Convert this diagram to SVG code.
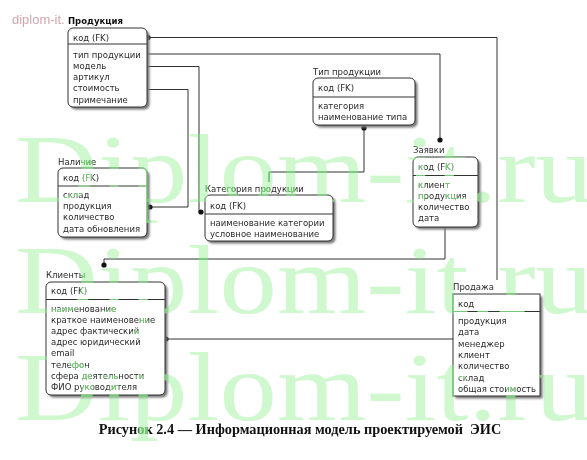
<svg xmlns="http://www.w3.org/2000/svg" xmlns:xlink="http://www.w3.org/1999/xlink" width="587" height="460" viewBox="0 0 587 460">
<defs>
<filter id="blur" x="-10%" y="-10%" width="130%" height="130%"><feGaussianBlur stdDeviation="1"/></filter>
<style>
.bg{fill:#fff}
.wmt{font-family:"Liberation Serif","Times New Roman",serif;font-size:98px}
.wm{fill:#cff8cf}
.wm2{fill:#74c874;mix-blend-mode:lighten}
.sh{fill:#777;filter:url(#blur)}
.box{fill:#fff;stroke:#333;stroke-width:1}
.dv{stroke:#333;stroke-width:1}
.t{font-family:"DejaVu Sans","Noto Sans",sans-serif;font-size:8.5px;fill:#2a2a2a}
.tb{font-family:"DejaVu Sans","Noto Sans",sans-serif;font-size:8.5px;fill:#111;font-weight:bold}
.w{fill:none;stroke:#333;stroke-width:1}
.dot{fill:#111}
.cap{font-family:"Liberation Serif","Times New Roman",serif;font-size:14.3px;font-weight:bold;fill:#111}
.pk{font-family:"Liberation Sans",Arial,sans-serif;font-size:13px;fill:#cfa6ae}
</style>
<g id="wmtext" class="wmt">
<text x="15" y="202" textLength="578" lengthAdjust="spacingAndGlyphs">Diplom-it.ru</text>
<text x="15" y="313" textLength="578" lengthAdjust="spacingAndGlyphs">Diplom-it.ru</text>
<text x="15" y="420" textLength="578" lengthAdjust="spacingAndGlyphs">Diplom-it.ru</text>
</g>
</defs>
<rect class="bg" x="0" y="0" width="587" height="460"/>
<use id="watermark" class="wm" href="#wmtext" xlink:href="#wmtext"/>
<text class="pk" x="12" y="24">diplom-it.</text>
<g id="connectors">
<path class="w" d="M148 37.5H497V280"/>
<path class="w" d="M147 54H440V140"/>
<path class="w" d="M147 66.5H199V212"/>
<path class="w" d="M147 89.5H188V207H150"/>
<path class="w" d="M364 128V172H269V182"/>
<path class="w" d="M445 227V259H104V265"/>
<path class="w" d="M166 339H453"/>
<circle class="dot" cx="148" cy="37.5" r="2.6"/>
<circle class="dot" cx="440" cy="140" r="2.6"/>
<circle class="dot" cx="201" cy="212" r="2.6"/>
<circle class="dot" cx="150" cy="207" r="2.6"/>
<circle class="dot" cx="364" cy="128" r="2.6"/>
<circle class="dot" cx="104" cy="265" r="2.6"/>
<circle class="dot" cx="166" cy="339" r="2.6"/>
</g>
<g id="produktsiya">
<text class="tb" x="68" y="24">Продукция</text>
<rect class="sh" x="70.5" y="30.5" width="79" height="79" rx="5"/>
<rect class="box" x="68" y="28" width="79" height="79" rx="5"/>
<line class="dv" x1="68" y1="44" x2="147" y2="44"/>
<text class="t" x="73" y="40.5">код (FK)</text>
<text class="t" x="73" y="57.5">тип продукции</text>
<text class="t" x="73" y="68.8">модель</text>
<text class="t" x="73" y="80.1">артикул</text>
<text class="t" x="73" y="91.4">стоимость</text>
<text class="t" x="73" y="102.7">примечание</text>
</g>
<g id="nalichie">
<text class="t" x="58" y="164.5">Наличие</text>
<rect class="sh" x="60.5" y="170.5" width="89" height="69" rx="5"/>
<rect class="box" x="58" y="168" width="89" height="69" rx="5"/>
<line class="dv" x1="58" y1="186" x2="147" y2="186"/>
<text class="t" x="63" y="180.5">код (FK)</text>
<text class="t" x="63" y="198">склад</text>
<text class="t" x="63" y="209.2">продукция</text>
<text class="t" x="63" y="220.4">количество</text>
<text class="t" x="63" y="231.6">дата обновления</text>
</g>
<g id="tip-produktsii">
<text class="t" x="313" y="74.5">Тип продукции</text>
<rect class="sh" x="315.5" y="80.5" width="102" height="47" rx="5"/>
<rect class="box" x="313" y="78" width="102" height="47" rx="5"/>
<line class="dv" x1="313" y1="97" x2="415" y2="97"/>
<text class="t" x="318" y="91">код (FK)</text>
<text class="t" x="318" y="109">категория</text>
<text class="t" x="318" y="120">наименование типа</text>
</g>
<g id="kategoriya">
<text class="t" x="205" y="191.5">Категория продукции</text>
<rect class="sh" x="207.5" y="197.5" width="128" height="46" rx="5"/>
<rect class="box" x="205" y="195" width="128" height="46" rx="5"/>
<line class="dv" x1="205" y1="214" x2="333" y2="214"/>
<text class="t" x="210" y="208.5">код (FK)</text>
<text class="t" x="210" y="225.5">наименование категории</text>
<text class="t" x="210" y="236.5">условное наименование</text>
</g>
<g id="zayavki">
<text class="t" x="413" y="153">Заявки</text>
<rect class="sh" x="415.5" y="159.5" width="65" height="70" rx="5"/>
<rect class="box" x="413" y="157" width="65" height="70" rx="5"/>
<line class="dv" x1="413" y1="175.5" x2="478" y2="175.5"/>
<text class="t" x="418" y="170">код (FK)</text>
<text class="t" x="418" y="188">клиент</text>
<text class="t" x="418" y="199">продукция</text>
<text class="t" x="418" y="210">количество</text>
<text class="t" x="418" y="221">дата</text>
</g>
<g id="klienty">
<text class="t" x="46" y="277.5">Клиенты</text>
<rect class="sh" x="48.5" y="284.5" width="119" height="113" rx="5"/>
<rect class="box" x="46" y="282" width="119" height="113" rx="5"/>
<line class="dv" x1="46" y1="299.5" x2="165" y2="299.5"/>
<text class="t" x="51" y="294">код (FK)</text>
<text class="t" x="51" y="312">наименование</text>
<text class="t" x="51" y="323.1">краткое наименовение</text>
<text class="t" x="51" y="334.2">адрес фактический</text>
<text class="t" x="51" y="345.3">адрес юридический</text>
<text class="t" x="51" y="356.4">email</text>
<text class="t" x="51" y="367.5">телефон</text>
<text class="t" x="51" y="378.6">сфера деятельности</text>
<text class="t" x="51" y="389.7">ФИО руководителя</text>
</g>
<g id="prodazha">
<text class="t" x="453" y="290">Продажа</text>
<rect class="sh" x="455.5" y="296.5" width="87" height="102"/>
<rect class="box" x="453" y="294" width="87" height="102"/>
<line class="dv" x1="453" y1="311.5" x2="540" y2="311.5"/>
<text class="t" x="458" y="306.5">код</text>
<text class="t" x="458" y="324">продукция</text>
<text class="t" x="458" y="335.3">дата</text>
<text class="t" x="458" y="346.6">менеджер</text>
<text class="t" x="458" y="357.9">клиент</text>
<text class="t" x="458" y="369.2">количество</text>
<text class="t" x="458" y="380.5">склад</text>
<text class="t" x="458" y="391.8">общая стоимость</text>
</g>
<text class="cap" x="300" y="434" text-anchor="middle" xml:space="preserve">Рисунок 2.4 — Информационная модель проектируемой  ЭИС</text>
<use id="watermark-overlay" class="wm2" href="#wmtext" xlink:href="#wmtext"/>
</svg>
